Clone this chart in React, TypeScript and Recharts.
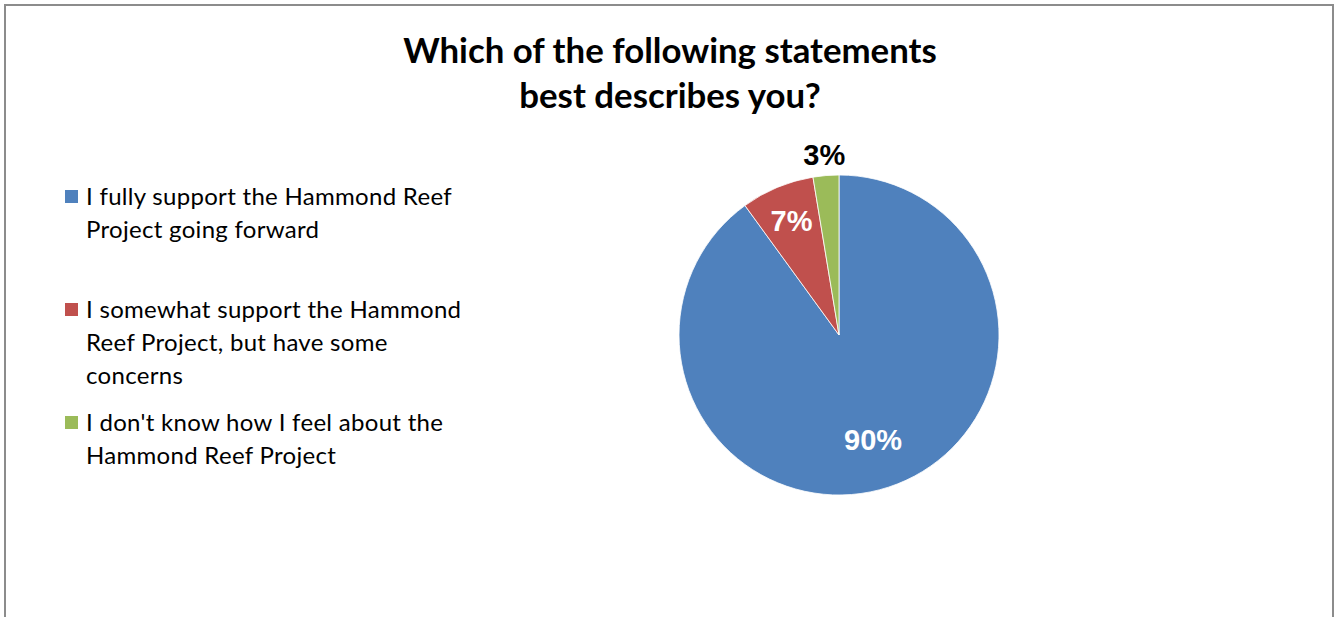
import React from 'react';
import { PieChart, Pie, Cell } from 'recharts';

const categories = [
  'I fully support the Hammond Reef Project going forward',
  'I somewhat support the Hammond Reef Project, but have some concerns',
  "I don't know how I feel about the Hammond Reef Project",
];
const values = [90, 7.4, 2.6];
const valueLabels = ['90%', '7%', '3%'];
const legendLines = [
  ['I fully support the Hammond Reef', 'Project going forward'],
  ['I somewhat support the Hammond', 'Reef Project, but have some', 'concerns'],
  ["I don't know how I feel about the", 'Hammond Reef Project'],
];
const colors = ['#4F81BD', '#C0504D', '#9BBB59'];
const titleLines = ['Which of the following statements', 'best describes you?'];

const data = categories.map((name, i) => ({ name, value: values[i], label: valueLabels[i] }));

const RAD = Math.PI / 180;

const renderLabel = (props: any) => {
  const { cx, cy, midAngle, outerRadius, index, percent } = props;
  const outside = percent < 0.05;
  const r = outside ? outerRadius + 21 : outerRadius * (percent > 0.5 ? 0.69 : 0.77);
  const x = cx + r * Math.cos(-midAngle * RAD);
  const y = cy + r * Math.sin(-midAngle * RAD);
  return (
    <text
      x={x}
      y={y}
      textAnchor="middle"
      dominantBaseline="central"
      fill={outside ? '#000000' : '#FFFFFF'}
      fontFamily="'Liberation Sans', Arial, sans-serif"
      fontWeight="bold"
      fontSize={29}
    >
      {data[index].label}
    </text>
  );
};

const LegendBox = () => (
  <div
    style={{
      position: 'absolute',
      left: 65,
      top: 179,
      fontFamily: 'Lato, sans-serif',
      fontSize: 24,
      letterSpacing: 0.3,
      color: '#000',
    }}
  >
    {legendLines.map((lines, i) => (
      <div key={i} style={{ position: 'relative', height: 113 }}>
        <div
          style={{
            position: 'absolute',
            left: 0,
            top: 11,
            width: 13,
            height: 13,
            background: colors[i],
          }}
        />
        <div style={{ position: 'absolute', left: 21, top: 0, lineHeight: '33px', whiteSpace: 'nowrap' }}>
          {lines.map((l, j) => (
            <div key={j}>{l}</div>
          ))}
        </div>
      </div>
    ))}
  </div>
);

export default function App() {
  return (
    <div
      style={{
        position: 'fixed',
        left: 0,
        top: 0,
        width: 1334,
        height: 617,
        overflow: 'hidden',
        background: '#fff',
      }}
    >
      <div
        style={{
          position: 'absolute',
          left: 4,
          top: 4,
          width: 1326,
          height: 700,
          borderTop: '2px solid #8c8c8c',
          borderLeft: '2px solid #8c8c8c',
          borderRight: '2px solid #8c8c8c',
        }}
      />
      <div
        style={{
          position: 'absolute',
          left: 0,
          top: 27,
          width: 1340,
          textAlign: 'center',
          fontFamily: 'Lato, sans-serif',
          fontWeight: 'bold',
          fontSize: 34.8,
          lineHeight: '45px',
          color: '#000',
        }}
      >
        {titleLines.map((t, i) => (
          <div key={i}>{t}</div>
        ))}
      </div>
      <div style={{ position: 'absolute', left: 0, top: 0 }}>
        <PieChart width={1334} height={617} margin={{ top: 0, right: 0, bottom: 0, left: 0 }}>
          <Pie
            data={data}
            dataKey="value"
            nameKey="name"
            cx={839}
            cy={335}
            outerRadius={160}
            startAngle={90}
            endAngle={-270}
            stroke="#ffffff"
            strokeWidth={0.8}
            label={renderLabel}
            labelLine={false}
            isAnimationActive={false}
          >
            {data.map((d, i) => (
              <Cell key={i} fill={colors[i]} />
            ))}
          </Pie>
        </PieChart>
      </div>
      <LegendBox />
    </div>
  );
}
